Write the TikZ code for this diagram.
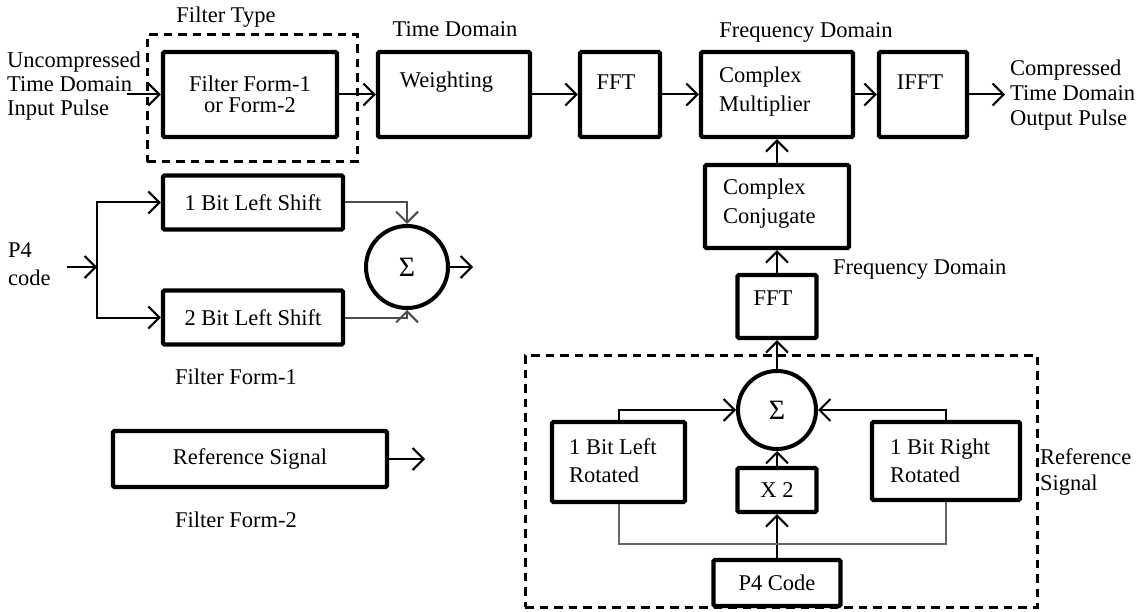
\documentclass[tikz,border=0pt]{standalone}
\usepackage{fontspec}
\setmainfont{Liberation Serif}
\usetikzlibrary{arrows.meta}
\begin{document}
\begin{tikzpicture}[x=1pt,y=-1pt,
  font=\fontsize{22.5}{27}\selectfont,
  blk/.style={draw, line width=4.4pt, rounded corners=1.5pt, inner sep=0pt},
  sumc/.style={draw, circle, line width=4pt, inner sep=0pt, font=\fontsize{28}{28}\selectfont},
  grp/.style={draw, line width=3pt, dash pattern=on 8.5pt off 6pt, inner sep=0pt},
  txt/.style={inner sep=0pt},
  arr/.style={line width=2pt, -{Straight Barb[length=11pt,width=22pt]}},
  garr/.style={arr, draw=black!70},
  wire/.style={line width=2pt, draw=black!60}]
\useasboundingbox (0,0) rectangle (1137,612);

% ---------- top chain ----------
\node[grp, minimum width=210pt, minimum height=127pt] (ftype) at (252,98.5) {};
\node[txt] (ftypel) at (226,17) {Filter Type};
\node[blk, minimum width=174pt, minimum height=85pt, align=center,
      font=\fontsize{22.5}{21}\selectfont] (ff) at (250,94.5) {Filter Form-1\\or Form-2};
\node[txt, anchor=west, align=left, font=\fontsize{22.5}{24}\selectfont] (inl) at (7,86)
  {Uncompressed\\Time Domain\\Input Pulse};
\coordinate (inp) at (127,94.5);

\node[blk, minimum width=152pt, minimum height=85pt] (wt) at (454,94.5) {};
\node[txt] (wtt) at (446.5,82) {Weighting};
\node[txt] (tdl) at (455,29) {Time Domain};

\node[blk, minimum width=80pt, minimum height=85pt] (fft) at (620,94.5) {};
\node[txt] (fftt) at (616,82) {FFT};

\node[blk, minimum width=152pt, minimum height=85pt] (cm) at (777,94.5) {};
\node[txt, anchor=west, align=left, font=\fontsize{22.5}{29}\selectfont] (cmt) at (719,92) {Complex\\Multiplier};
\node[txt] (fdl) at (806,32) {Frequency Domain};

\node[blk, minimum width=88pt, minimum height=85pt] (ifft) at (923,94.5) {};
\node[txt] (ifftt) at (920,82) {IFFT};
\coordinate (outp) at (1005,94.5);
\node[txt, anchor=west, align=left, font=\fontsize{22.5}{25}\selectfont] (outl) at (1010,95)
  {Compressed\\Time Domain\\Output Pulse};

\draw[arr] (inp) -- (ff.west);
\draw[arr] (ff.east) -- (wt.west);
\draw[arr] (wt.east) -- (fft.west);
\draw[arr] (fft.east) -- (cm.west);
\draw[arr] (cm.east) -- (ifft.west);
\draw[arr] (ifft.east) -- (outp);

% ---------- reference path ----------
\node[blk, minimum width=144pt, minimum height=83pt] (cc) at (777,206.5) {};
\node[txt, anchor=west, align=left, font=\fontsize{22.5}{29}\selectfont] (cct) at (723,203.5) {Complex\\Conjugate};
\node[blk, minimum width=79pt, minimum height=63pt] (fft2) at (777,306.5) {};
\node[txt] (fft2t) at (773,298) {FFT};
\node[txt, anchor=west] (fdl2) at (833,269) {Frequency Domain};

\node[grp, minimum width=512pt, minimum height=252pt] (refg) at (781,481) {};
\node[txt, anchor=west, align=left, font=\fontsize{22.5}{26}\selectfont] (refl) at (1040,472) {Reference\\Signal};

\node[sumc, minimum size=78pt] (s2) at (777,410) {Σ};
\node[blk, minimum width=133pt, minimum height=80pt] (lr) at (618.5,462) {};
\node[txt, anchor=west, align=left, font=\fontsize{22.5}{28}\selectfont] (lrt) at (569,461) {1 Bit Left\\Rotated};
\node[blk, minimum width=148pt, minimum height=78pt] (rr) at (946,461) {};
\node[txt, anchor=west, align=left, font=\fontsize{22.5}{28}\selectfont] (rrt) at (890,461) {1 Bit Right\\Rotated};
\node[blk, minimum width=79pt, minimum height=44pt] (x2) at (777,490) {X 2};
\node[blk, minimum width=127pt, minimum height=46pt] (p4) at (777,583) {P4 Code};

\draw[arr] (cc.north) -- (cm.south);
\draw[arr] (fft2.north) -- (cc.south);
\draw[arr] (s2.north) -- (fft2.south);
\draw[arr] (x2.north) -- (s2.south);
\draw[arr] (p4.north) -- (x2.south);
\draw[arr] (lr.north) |- (s2.west);
\draw[arr] (rr.north) |- (s2.east);
\draw[wire] (lr.south) -- ++(0,40) -| (rr.south);

% ---------- Filter Form-1 ----------
\node[txt, anchor=west, align=left, font=\fontsize{22.5}{28}\selectfont] (p4l) at (8,264) {P4\\code};
\coordinate (p4in) at (67,267);
\coordinate (br) at (97,267);
\node[blk, minimum width=180pt, minimum height=54pt] (b1) at (253,202.5) {1 Bit Left Shift};
\node[blk, minimum width=180pt, minimum height=54pt] (b2) at (253,317.5) {2 Bit Left Shift};
\node[sumc, minimum size=82pt] (s1) at (407,267) {Σ};
\coordinate (s1out) at (473,267);
\draw[arr] (p4in) -- (br);
\draw[arr] (br) |- (b1.west);
\draw[arr] (br) |- (b2.west);
\draw[garr] (b1.east) -| (s1.north);
\draw[garr] (b2.east) -| (s1.south);
\draw[arr] (s1.east) -- (s1out);
\node[txt] (ff1l) at (236,377) {Filter Form-1};

% ---------- Filter Form-2 ----------
\node[blk, minimum width=274pt, minimum height=56pt] (rs) at (250,459) {Reference Signal};
\coordinate (rsout) at (425,459);
\draw[arr] (rs.east) -- (rsout);
\node[txt] (ff2l) at (236,520) {Filter Form-2};
\end{tikzpicture}
\end{document}
